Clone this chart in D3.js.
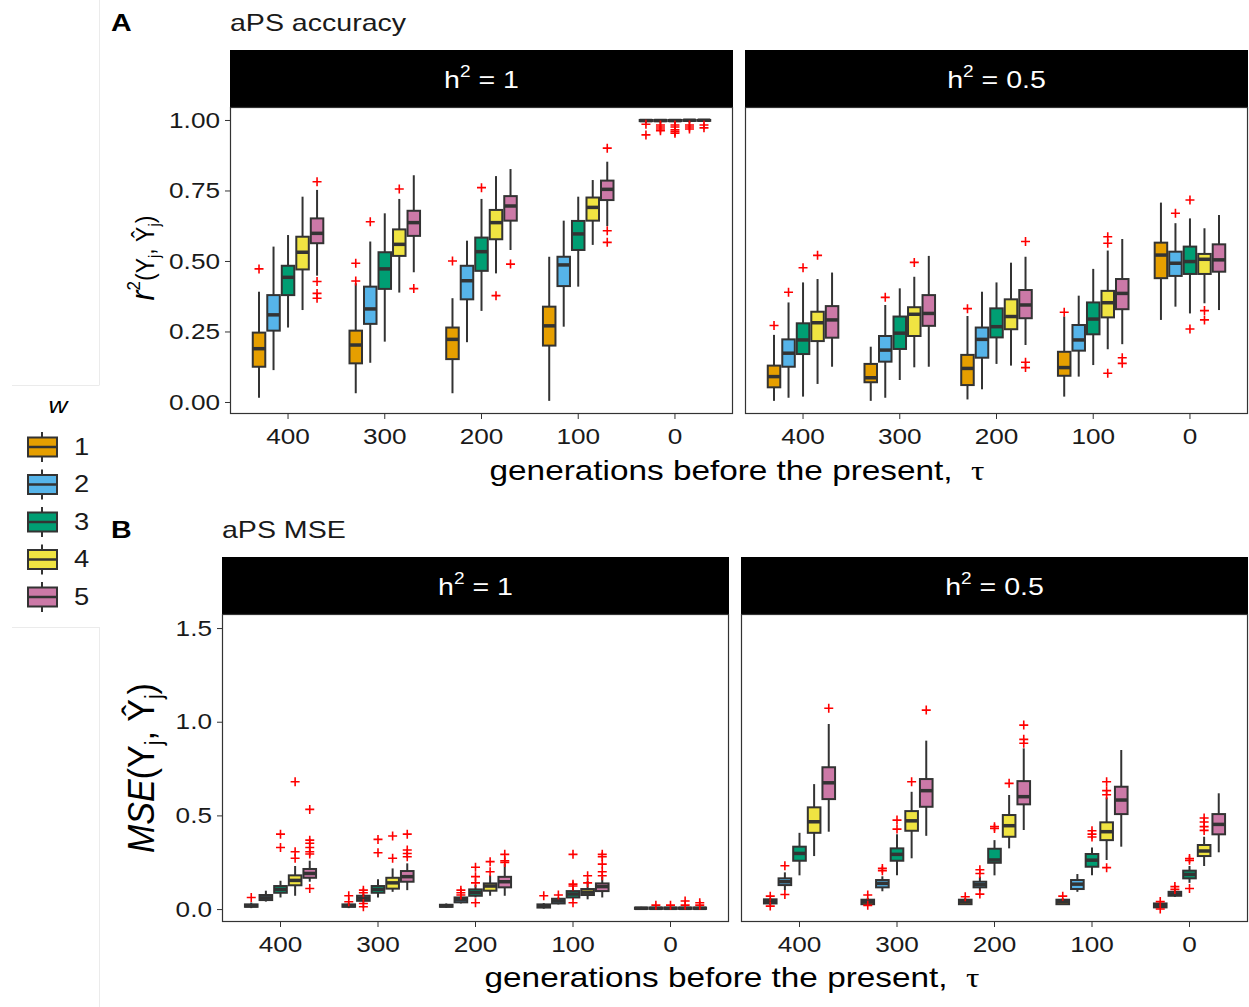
<!DOCTYPE html>
<html>
<head>
<meta charset="utf-8">
<script src="https://cdn.jsdelivr.net/npm/d3@7"></script>
<style>
  body { margin: 0; background: #fff; }
  svg { font-family: "Liberation Sans", Arial, Helvetica, sans-serif; }
</style>
</head>
<body>
<div id="chart"></div>
<script>
// categories
const taus = ["400", "300", "200", "100", "0"];
const wLevels = ["1", "2", "3", "4", "5"];
const wColors = ["#E69F00", "#56B4E9", "#009E73", "#F0E442", "#CC79A7"];
const accTicks = [0, 0.25, 0.5, 0.75, 1];
const mseTicks = [0, 0.5, 1, 1.5];

// rows: [tau, w, lower whisker, q1, median, q3, upper whisker, outliers]
const accH1 = [
  ["400", "1", 0.015, 0.125, 0.189, 0.246, 0.391, [0.472]],
  ["400", "2", 0.113, 0.253, 0.309, 0.379, 0.551, []],
  ["400", "3", 0.264, 0.379, 0.442, 0.483, 0.592, []],
  ["400", "4", 0.326, 0.470, 0.531, 0.586, 0.728, []],
  ["400", "5", 0.448, 0.563, 0.598, 0.651, 0.752, [0.781, 0.427, 0.385, 0.368]],
  ["300", "1", 0.031, 0.137, 0.202, 0.253, 0.421, [0.492, 0.429]],
  ["300", "2", 0.139, 0.277, 0.330, 0.409, 0.569, [0.639]],
  ["300", "3", 0.214, 0.401, 0.472, 0.531, 0.669, []],
  ["300", "4", 0.388, 0.518, 0.559, 0.612, 0.720, [0.755]],
  ["300", "5", 0.460, 0.589, 0.636, 0.678, 0.804, [0.402]],
  ["200", "1", 0.031, 0.152, 0.222, 0.264, 0.368, [0.500]],
  ["200", "2", 0.212, 0.364, 0.430, 0.483, 0.572, []],
  ["200", "3", 0.323, 0.465, 0.533, 0.583, 0.720, [0.760]],
  ["200", "4", 0.456, 0.577, 0.636, 0.681, 0.801, [0.377]],
  ["200", "5", 0.539, 0.643, 0.695, 0.730, 0.826, [0.489]],
  ["100", "1", 0.004, 0.200, 0.270, 0.338, 0.515, []],
  ["100", "2", 0.267, 0.411, 0.486, 0.515, 0.643, []],
  ["100", "3", 0.409, 0.539, 0.596, 0.642, 0.728, []],
  ["100", "4", 0.557, 0.643, 0.690, 0.725, 0.787, []],
  ["100", "5", 0.624, 0.716, 0.754, 0.785, 0.852, [0.900, 0.607, 0.566]],
  ["0", "1", 0.988, 0.996, 0.998, 1.000, 1.000, [0.985, 0.947]],
  ["0", "2", 0.988, 0.996, 0.998, 1.000, 1.000, [0.982, 0.975, 0.968, 0.962]],
  ["0", "3", 0.988, 0.996, 0.998, 1.000, 1.000, [0.982, 0.975, 0.965, 0.958, 0.953]],
  ["0", "4", 0.990, 0.997, 0.999, 1.000, 1.000, [0.982, 0.975, 0.968]],
  ["0", "5", 0.992, 0.997, 0.999, 1.000, 1.000, [0.982, 0.972]]
];

const accH05 = [
  ["400", "1", 0.004, 0.052, 0.090, 0.129, 0.238, [0.271]],
  ["400", "2", 0.015, 0.125, 0.173, 0.222, 0.353, [0.389]],
  ["400", "3", 0.019, 0.170, 0.220, 0.279, 0.424, [0.476]],
  ["400", "4", 0.064, 0.216, 0.281, 0.320, 0.436, [0.520]],
  ["400", "5", 0.125, 0.228, 0.291, 0.340, 0.459, []],
  ["300", "1", 0.004, 0.070, 0.086, 0.135, 0.196, []],
  ["300", "2", 0.015, 0.143, 0.184, 0.234, 0.344, [0.371]],
  ["300", "3", 0.078, 0.188, 0.244, 0.303, 0.403, []],
  ["300", "4", 0.123, 0.234, 0.311, 0.336, 0.444, [0.495]],
  ["300", "5", 0.125, 0.270, 0.314, 0.379, 0.518, []],
  ["200", "1", 0.009, 0.060, 0.119, 0.167, 0.305, [0.331]],
  ["200", "2", 0.045, 0.157, 0.222, 0.264, 0.391, []],
  ["200", "3", 0.135, 0.229, 0.267, 0.332, 0.424, []],
  ["200", "4", 0.129, 0.258, 0.303, 0.364, 0.494, []],
  ["200", "5", 0.202, 0.297, 0.344, 0.397, 0.515, [0.569, 0.141, 0.122]],
  ["100", "1", 0.019, 0.093, 0.122, 0.178, 0.303, [0.318]],
  ["100", "2", 0.090, 0.182, 0.220, 0.273, 0.377, []],
  ["100", "3", 0.131, 0.240, 0.294, 0.353, 0.472, []],
  ["100", "4", 0.187, 0.300, 0.352, 0.394, 0.537, [0.586, 0.563, 0.102]],
  ["100", "5", 0.205, 0.329, 0.385, 0.436, 0.578, [0.157, 0.137]],
  ["0", "1", 0.291, 0.439, 0.521, 0.565, 0.707, []],
  ["0", "2", 0.338, 0.447, 0.492, 0.533, 0.634, [0.669]],
  ["0", "3", 0.314, 0.454, 0.498, 0.551, 0.651, [0.716, 0.259]],
  ["0", "4", 0.350, 0.454, 0.506, 0.525, 0.616, [0.324, 0.291]],
  ["0", "5", 0.326, 0.462, 0.504, 0.559, 0.663, []]
];

const mseH1 = [
  ["400", "1", 0.005, 0.012, 0.018, 0.025, 0.035, [0.062]],
  ["400", "2", 0.040, 0.048, 0.060, 0.075, 0.098, []],
  ["400", "3", 0.062, 0.087, 0.105, 0.123, 0.151, [0.400, 0.329]],
  ["400", "4", 0.071, 0.127, 0.153, 0.180, 0.230, [0.680, 0.306, 0.271]],
  ["400", "5", 0.146, 0.167, 0.190, 0.214, 0.258, [0.532, 0.368, 0.351, 0.329, 0.306, 0.294, 0.110]],
  ["300", "1", 0.005, 0.012, 0.018, 0.025, 0.035, [0.071, 0.039]],
  ["300", "2", 0.035, 0.044, 0.058, 0.071, 0.082, [0.101, 0.087, 0.030, 0.012]],
  ["300", "3", 0.062, 0.087, 0.105, 0.123, 0.159, [0.372, 0.301]],
  ["300", "4", 0.092, 0.109, 0.140, 0.167, 0.217, [0.390, 0.271]],
  ["300", "5", 0.101, 0.146, 0.173, 0.203, 0.244, [0.400, 0.315, 0.297, 0.279]],
  ["200", "1", 0.006, 0.012, 0.017, 0.023, 0.030, []],
  ["200", "2", 0.030, 0.036, 0.050, 0.062, 0.068, [0.101, 0.087, 0.075]],
  ["200", "3", 0.062, 0.071, 0.088, 0.105, 0.130, [0.223, 0.173, 0.140, 0.034]],
  ["200", "4", 0.071, 0.098, 0.123, 0.137, 0.180, [0.253, 0.199]],
  ["200", "5", 0.071, 0.116, 0.146, 0.172, 0.240, [0.292, 0.258, 0.249]],
  ["100", "1", 0.002, 0.008, 0.015, 0.025, 0.032, [0.071]],
  ["100", "2", 0.025, 0.030, 0.043, 0.055, 0.062, [0.075]],
  ["100", "3", 0.048, 0.062, 0.080, 0.096, 0.115, [0.292, 0.133, 0.123, 0.034]],
  ["100", "4", 0.052, 0.075, 0.090, 0.107, 0.150, [0.178, 0.140]],
  ["100", "5", 0.062, 0.096, 0.120, 0.137, 0.173, [0.292, 0.279, 0.240, 0.199, 0.178]],
  ["0", "1", 0.000, 0.001, 0.004, 0.008, 0.012, []],
  ["0", "2", 0.000, 0.001, 0.004, 0.008, 0.012, [0.021]],
  ["0", "3", 0.000, 0.001, 0.004, 0.008, 0.012, [0.021]],
  ["0", "4", 0.000, 0.001, 0.004, 0.008, 0.012, [0.043, 0.021]],
  ["0", "5", 0.000, 0.001, 0.004, 0.008, 0.012, [0.034, 0.021]]
];

const mseH05 = [
  ["400", "1", 0.022, 0.030, 0.040, 0.052, 0.060, [0.069, 0.016]],
  ["400", "2", 0.101, 0.128, 0.146, 0.164, 0.196, [0.231, 0.078]],
  ["400", "3", 0.180, 0.258, 0.297, 0.333, 0.407, []],
  ["400", "4", 0.283, 0.407, 0.466, 0.543, 0.667, []],
  ["400", "5", 0.413, 0.587, 0.674, 0.757, 0.988, [1.072]],
  ["300", "1", 0.022, 0.026, 0.040, 0.050, 0.060, [0.075, 0.020]],
  ["300", "2", 0.095, 0.116, 0.137, 0.155, 0.175, [0.217, 0.205]],
  ["300", "3", 0.180, 0.258, 0.292, 0.324, 0.399, [0.475, 0.427]],
  ["300", "4", 0.271, 0.418, 0.471, 0.523, 0.626, [0.680]],
  ["300", "5", 0.391, 0.546, 0.632, 0.694, 0.899, [1.062]],
  ["200", "1", 0.022, 0.026, 0.040, 0.050, 0.058, [0.066]],
  ["200", "2", 0.095, 0.116, 0.130, 0.146, 0.173, [0.210, 0.190, 0.080]],
  ["200", "3", 0.180, 0.247, 0.262, 0.322, 0.368, [0.440, 0.430]],
  ["200", "4", 0.324, 0.386, 0.445, 0.502, 0.609, [0.671]],
  ["200", "5", 0.422, 0.559, 0.600, 0.683, 0.858, [0.982, 0.906, 0.885]],
  ["100", "1", 0.022, 0.026, 0.040, 0.050, 0.058, [0.069]],
  ["100", "2", 0.092, 0.107, 0.133, 0.155, 0.187, []],
  ["100", "3", 0.180, 0.226, 0.261, 0.294, 0.329, [0.418, 0.400, 0.385]],
  ["100", "4", 0.262, 0.368, 0.413, 0.463, 0.596, [0.680, 0.632, 0.610, 0.221]],
  ["100", "5", 0.333, 0.507, 0.582, 0.653, 0.849, []],
  ["0", "1", 0.005, 0.009, 0.020, 0.030, 0.035, [0.040, 0.000]],
  ["0", "2", 0.065, 0.071, 0.080, 0.092, 0.100, [0.120, 0.105]],
  ["0", "3", 0.140, 0.164, 0.185, 0.205, 0.230, [0.270, 0.260, 0.110]],
  ["0", "4", 0.230, 0.283, 0.310, 0.342, 0.386, [0.486, 0.465, 0.440, 0.420]],
  ["0", "5", 0.303, 0.399, 0.452, 0.507, 0.618, []]
];

const W = 1249, H = 1007;
const SX = 1.19;               // the figure's text is drawn a bit wide
const lineCol = "#333333";
const color = d3.scaleOrdinal().domain(wLevels).range(wColors);

const svg = d3.select("#chart").append("svg")
    .attr("width", W).attr("height", H);

// widen a text element about its own x anchor
function widen(sel) {
    sel.each(function() {
        const t = d3.select(this);
        const x = +t.attr("x") || 0;
        t.attr("transform", `translate(${x},0) scale(${SX},1) translate(${-x},0)`);
    });
    return sel;
}

// faint layout guides from the original figure
const guide = svg.append("g").attr("stroke", "#ebebeb").attr("stroke-width", 1);
guide.append("line").attr("x1", 99.5).attr("x2", 99.5).attr("y1", 0).attr("y2", 385);
guide.append("line").attr("x1", 12).attr("x2", 99.5).attr("y1", 385.5).attr("y2", 385.5);
guide.append("line").attr("x1", 12).attr("x2", 99.5).attr("y1", 627.5).attr("y2", 627.5);
guide.append("line").attr("x1", 99.5).attr("x2", 99.5).attr("y1", 627).attr("y2", H);

function stripLabel(g, cx, cy, val) {
    const t = g.append("text")
        .attr("x", cx).attr("y", cy)
        .attr("text-anchor", "middle")
        .attr("fill", "#fff")
        .attr("font-size", 24);
    t.append("tspan").text("h");
    t.append("tspan").attr("font-size", 16).attr("dy", -11).text("2");
    t.append("tspan").attr("dy", 11).text(" = " + val);
    widen(t);
}

function drawPanel(rows, x0, x1, yTop, yBot, stripTop, y, hval) {
    const g = svg.append("g");

    // strip
    g.append("rect")
        .attr("x", x0).attr("y", stripTop)
        .attr("width", x1 - x0).attr("height", yTop - stripTop)
        .attr("fill", "#000");
    stripLabel(g, (x0 + x1) / 2, (stripTop + yTop) / 2 + 10, hval);

    const x = d3.scaleBand().domain(taus).range([x0, x1])
        .paddingInner(0).paddingOuter(0.1);
    const bw = x.bandwidth();
    const dodge = d3.scaleBand().domain(wLevels)
        .range([-0.375 * bw, 0.375 * bw]);
    const boxW = dodge.bandwidth();

    // x axis
    const xAxis = g.append("g")
        .attr("transform", `translate(0,${yBot})`)
        .call(d3.axisBottom(x).tickSize(5).tickPadding(9));
    xAxis.select(".domain").remove();
    xAxis.selectAll("line").attr("stroke", lineCol);
    xAxis.selectAll("text").attr("font-size", 22).attr("fill", "#1a1a1a")
        .attr("font-family", "Liberation Sans, Arial, sans-serif");
    widen(xAxis.selectAll("text"));

    const boxes = g.append("g");
    rows.forEach(r => {
        const [tau, w, lo, q1, med, q3, hi, outs] = r;
        const cx = x(tau) + bw / 2 + dodge(w) + boxW / 2;
        const bg = boxes.append("g");
        bg.append("line")
            .attr("x1", cx).attr("x2", cx)
            .attr("y1", y(hi)).attr("y2", y(q3))
            .attr("stroke", lineCol).attr("stroke-width", 2);
        bg.append("line")
            .attr("x1", cx).attr("x2", cx)
            .attr("y1", y(q1)).attr("y2", y(lo))
            .attr("stroke", lineCol).attr("stroke-width", 2);
        bg.append("rect")
            .attr("x", cx - boxW / 2 + 1).attr("y", y(q3))
            .attr("width", boxW - 2).attr("height", Math.max(y(q1) - y(q3), 0.5))
            .attr("fill", color(w))
            .attr("stroke", lineCol).attr("stroke-width", 2);
        bg.append("line")
            .attr("x1", cx - boxW / 2 + 1).attr("x2", cx + boxW / 2 - 1)
            .attr("y1", y(med)).attr("y2", y(med))
            .attr("stroke", lineCol).attr("stroke-width", 3.5);
        outs.forEach(o => {
            const oy = y(o);
            bg.append("path")
                .attr("d", `M${cx - 4.5},${oy}H${cx + 4.5}M${cx},${oy - 4.5}V${oy + 4.5}`)
                .attr("stroke", "#ff0000").attr("stroke-width", 1.6)
                .attr("fill", "none");
        });
    });

    // panel border
    g.append("rect")
        .attr("x", x0 + 0.5).attr("y", yTop + 0.5)
        .attr("width", x1 - x0 - 1).attr("height", yBot - yTop - 1)
        .attr("fill", "none").attr("stroke", lineCol).attr("stroke-width", 1.2);
    return g;
}

function drawYAxis(x0, y, ticks, fmt) {
    const ax = svg.append("g")
        .attr("transform", `translate(${x0},0)`)
        .call(d3.axisLeft(y).tickValues(ticks).tickFormat(fmt).tickSize(5).tickPadding(5));
    ax.select(".domain").remove();
    ax.selectAll("line").attr("stroke", lineCol);
    ax.selectAll("text").attr("font-size", 22).attr("fill", "#1a1a1a")
        .attr("font-family", "Liberation Sans, Arial, sans-serif");
    widen(ax.selectAll("text"));
}

// ---------- Panel A ----------
const yA = d3.scaleLinear().domain([-0.0426, 1.046]).range([414, 107]);
drawPanel(accH1, 230, 733, 107, 414, 50, yA, "1");
drawPanel(accH05, 745, 1248, 107, 414, 50, yA, "0.5");
drawYAxis(230, yA, accTicks, d3.format(".2f"));

// ---------- Panel B ----------
const yB = d3.scaleLinear().domain([-0.069, 1.575]).range([922, 614]);
drawPanel(mseH1, 222, 729, 614, 922, 557, yB, "1");
drawPanel(mseH05, 741, 1248, 614, 922, 557, yB, "0.5");
drawYAxis(222, yB, mseTicks, d3.format(".1f"));

// panel tags and titles
widen(svg.append("text").attr("x", 111).attr("y", 31).attr("font-size", 24)
    .attr("font-weight", "bold").text("A"));
widen(svg.append("text").attr("x", 230).attr("y", 31).attr("font-size", 24)
    .attr("fill", "#1a1a1a").text("aPS accuracy"));
widen(svg.append("text").attr("x", 111).attr("y", 538).attr("font-size", 24)
    .attr("font-weight", "bold").text("B"));
widen(svg.append("text").attr("x", 222).attr("y", 538).attr("font-size", 24)
    .attr("fill", "#1a1a1a").text("aPS MSE"));

// x axis titles
function xTitle(cx, ty) {
    const t = svg.append("text").attr("x", cx).attr("y", ty)
        .attr("text-anchor", "middle").attr("font-size", 28).attr("fill", "#000");
    t.append("tspan").text("generations before the present,\u00a0\u00a0");
    t.append("tspan").attr("font-family", "Liberation Serif, DejaVu Serif, serif").text("τ");
    widen(t);
}
xTitle(737, 480);
xTitle(732, 987);

// y axis titles (rotated, widened on screen like the rest of the figure)
{
    const t = svg.append("text")
        .attr("transform", `translate(154,258) scale(1.1,1) rotate(-90)`)
        .attr("text-anchor", "middle").attr("font-size", 23);
    t.append("tspan").attr("font-style", "italic").attr("font-size", 30).text("r");
    t.append("tspan").attr("font-size", 17).attr("dy", -13).text("2");
    t.append("tspan").attr("dy", 13).text("(Y");
    t.append("tspan").attr("font-size", 15).attr("dy", 5).text("j");
    t.append("tspan").attr("dy", -5).text(", Ŷ");
    t.append("tspan").attr("font-size", 15).attr("dy", 5).text("j");
    t.append("tspan").attr("dy", -5).text(")");
}
{
    const t = svg.append("text")
        .attr("transform", `translate(154,768) scale(1.1,1) rotate(-90)`)
        .attr("text-anchor", "middle").attr("font-size", 34);
    t.append("tspan").attr("font-style", "italic").text("MSE");
    t.append("tspan").text("(Y");
    t.append("tspan").attr("font-size", 21).attr("dy", 7).text("j");
    t.append("tspan").attr("dy", -7).text(", Ŷ");
    t.append("tspan").attr("font-size", 21).attr("dy", 7).text("j");
    t.append("tspan").attr("dy", -7).text(")");
}

// ---------- legend ----------
const leg = svg.append("g");
widen(leg.append("text").attr("x", 58).attr("y", 413).attr("text-anchor", "middle")
    .attr("font-size", 22).attr("font-style", "italic").text("w"));
const keyY = d3.scalePoint().domain(wLevels).range([447, 597]);
wLevels.forEach(w => {
    const cy = keyY(w);
    leg.append("line").attr("x1", 42).attr("x2", 42)
        .attr("y1", cy - 15).attr("y2", cy + 15)
        .attr("stroke", lineCol).attr("stroke-width", 2);
    leg.append("rect").attr("x", 28).attr("y", cy - 9.5)
        .attr("width", 29).attr("height", 19)
        .attr("fill", color(w)).attr("stroke", lineCol).attr("stroke-width", 2);
    leg.append("line").attr("x1", 28).attr("x2", 57)
        .attr("y1", cy).attr("y2", cy)
        .attr("stroke", lineCol).attr("stroke-width", 2.5);
    widen(leg.append("text").attr("x", 74).attr("y", cy + 8)
        .attr("font-size", 23).attr("fill", "#1a1a1a").text(w));
});
</script>
</body>
</html>
